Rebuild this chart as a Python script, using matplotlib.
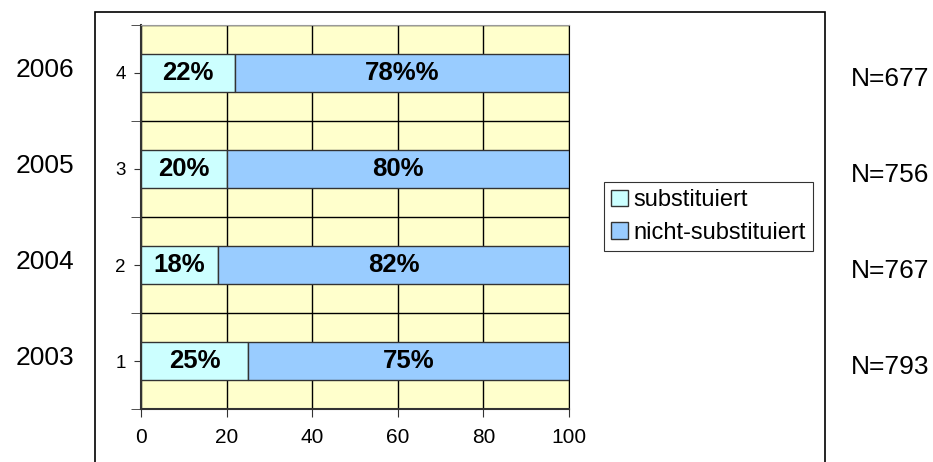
import numpy as np
import matplotlib.pyplot as plt
from matplotlib.patches import Rectangle

plt.rcParams['font.family'] = ['Liberation Sans', 'DejaVu Sans']

years = ['2003', '2004', '2005', '2006']
cats = [1, 2, 3, 4]
subst = [25, 18, 20, 22]
nicht = [75, 82, 80, 78]
nicht_labels = ['75%', '82%', '80%', '78%%']
n_labels = ['N=793', 'N=767', 'N=756', 'N=677']

fig = plt.figure(figsize=(9.33, 4.62), dpi=100)
ax = fig.add_axes([0.1511, 0.1147, 0.4588, 0.8312])

# outer chart frame (runs off the bottom of the picture)
fig.patches.append(Rectangle((95 / 933, -0.2), (825 - 95) / 933, 1.2 - 12 / 462,
                             transform=fig.transFigure, fill=False,
                             edgecolor='black', lw=1.2))

ax.set_facecolor('#FFFFCC')
ax.barh(cats, subst, height=0.4, color='#CCFFFF', edgecolor='#333333',
        lw=1, label='substituiert', zorder=3)
ax.barh(cats, nicht, left=subst, height=0.4, color='#99CCFF',
        edgecolor='#333333', lw=1, label='nicht-substituiert', zorder=3)

for y, s, n, nl in zip(cats, subst, nicht, nicht_labels):
    ax.text(s / 2, y, f'{s}%', ha='center', va='center', fontsize=18.5,
            fontweight='bold', zorder=4)
    ax.text(s + n / 2, y, nl, ha='center', va='center', fontsize=18.5,
            fontweight='bold', zorder=4)

for y, yr, nn in zip(cats, years, n_labels):
    ax.text(-0.224, y + 0.03, yr, transform=ax.get_yaxis_transform(),
            ha='center', va='center', fontsize=19)
    ax.text(1.75, y - 0.06, nn, transform=ax.get_yaxis_transform(),
            ha='center', va='center', fontsize=19)

ax.set_xlim(0, 100)
ax.set_ylim(0.5, 4.5)
ax.set_xticks([0, 20, 40, 60, 80, 100])
ax.set_yticks(cats)
ax.set_yticks(np.arange(0.5, 4.6, 1), minor=True)
ax.tick_params(axis='x', labelsize=15, length=6, color='#333333', pad=8)
ax.tick_params(axis='y', which='major', labelsize=13.5, length=5,
               color='#333333', pad=6)
ax.tick_params(axis='y', which='minor', length=7, color='#333333')
ax.grid(axis='x', color='black', lw=1, zorder=1)
ax.grid(axis='y', which='minor', color='black', lw=1, zorder=1)
ax.set_axisbelow(True)

for side in ['left', 'bottom']:
    ax.spines[side].set_color('#333333')
    ax.spines[side].set_linewidth(1.5)
ax.spines['top'].set_color('#999999')
ax.spines['right'].set_color('black')

leg = ax.legend(loc='upper left', bbox_to_anchor=(604 / 933, 1 - 182 / 462),
                bbox_transform=fig.transFigure, fontsize=17, frameon=True,
                fancybox=False, edgecolor='black', handlelength=0.7,
                handleheight=0.7, handletextpad=0.25, borderpad=0.3,
                labelspacing=0.45, borderaxespad=0)
leg.get_frame().set_linewidth(0.8)

plt.savefig('out.png', dpi=100)
